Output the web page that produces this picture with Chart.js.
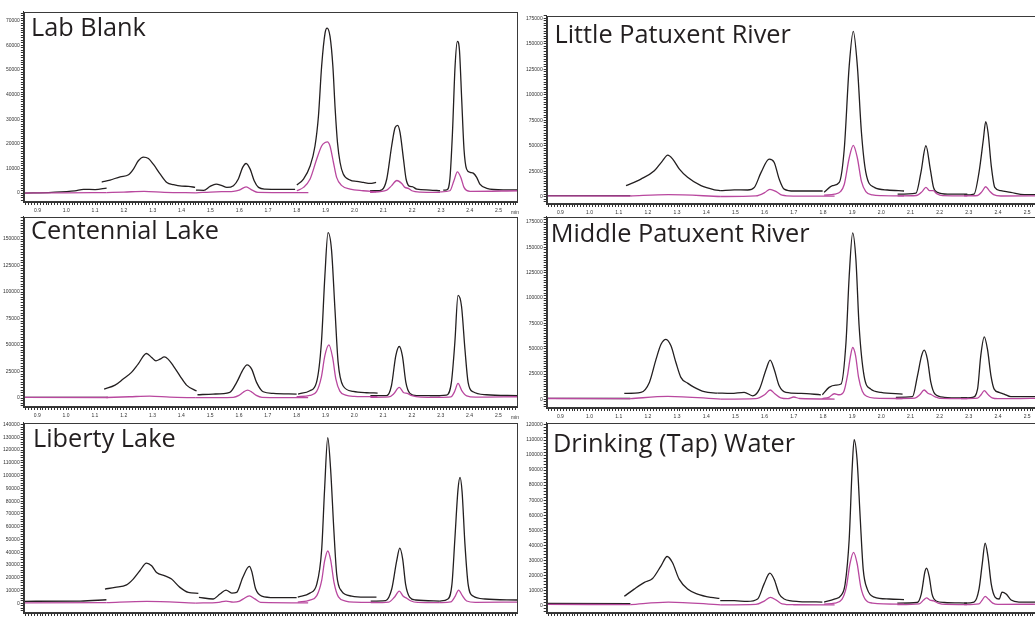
<!DOCTYPE html>
<html lang="en">
<head>
<meta charset="UTF-8" />
<title>Chromatograms</title>
<style>
  html, body { margin: 0; padding: 0; background: #fff; overflow: hidden; }
  body { width: 1035px; height: 619px; position: relative; font-family: "Open Sans", sans-serif; }
  canvas { position: absolute; }
  .title { position: absolute; font-size: 25.3px; line-height: 25.3px; color: #231f20; white-space: nowrap; }
  .unit { position: absolute; font-family: "Liberation Sans", sans-serif; font-size: 5px; line-height: 5px; color: #333; }
</style>
<script src="https://cdn.jsdelivr.net/npm/chart.js"></script>
</head>
<body>
<script>
// retention time axis (min); ticks every 0.01, labelled every 0.1
const xMin = 0.853, xMax = 2.567;
const xMinorPerMin = 100, xMinorPerLabel = 10;

const titles = ['Lab Blank', 'Centennial Lake', 'Liberty Lake',
  'Little Patuxent River', 'Middle Patuxent River', 'Drinking (Tap) Water'];
const yMin = [-3640, -8460, -7570, -7140, -8560, -5100];
const yMax = [73650, 171100, 141500, 177650, 180400, 121550];
const yMajorStep = [10000, 25000, 10000, 25000, 25000, 10000];
const yMinorStep = [1000, 2500, 2000, 2500, 2500, 2000];

// each trace = list of MRM window segments, points are [time, intensity]
const labBlankBlack = [
  [[0.853,0],[0.95,300],[1.03,900],[1.06,1500],[1.10,1400],[1.14,2000]],
  [[1.123,4450],[1.152,5260],[1.187,6600],[1.216,7400],[1.233,9700],[1.25,13100],[1.268,14600],[1.285,14000],[1.302,11700],[1.326,7700],[1.349,4300],[1.372,3400],[1.401,2800],[1.424,2700],[1.447,2300]],
  [[1.45,1200],[1.477,1100],[1.499,2700],[1.52,3600],[1.54,3000],[1.557,2300],[1.58,3000],[1.597,5700],[1.612,10400],[1.624,12000],[1.638,9700],[1.652,5000],[1.667,2300],[1.69,1600],[1.742,1500],[1.794,1500]],
  [[1.80,3240],[1.823,5670],[1.846,11000],[1.863,19100],[1.875,31300],[1.886,51500],[1.898,65000],[1.905,67000],[1.915,63700],[1.925,51500],[1.933,34000],[1.941,20500],[1.95,12400],[1.961,7700],[1.985,5260],[2.008,4700],[2.031,4300],[2.054,3900],[2.075,4300]],
  [[2.054,930],[2.077,930],[2.095,1300],[2.112,5700],[2.129,19100],[2.141,26600],[2.15,27500],[2.158,24600],[2.17,13800],[2.179,5700],[2.19,2800],[2.2,2600],[2.216,1600],[2.262,1200],[2.297,930]],
  [[2.308,1200],[2.32,1300],[2.331,5700],[2.34,24600],[2.349,51500],[2.357,61600],[2.364,58300],[2.372,38000],[2.38,17800],[2.389,9700],[2.401,8400],[2.412,8100],[2.424,6350],[2.435,3600],[2.459,1900],[2.516,1300],[2.567,1300]]
];
const labBlankPink = [
  [[0.853,0],[1.0,100],[1.14,200]],
  [[1.14,200],[1.2,400],[1.27,700],[1.34,300],[1.45,100]],
  [[1.45,100],[1.52,500],[1.58,700],[1.60,1200],[1.624,2500],[1.645,1200],[1.665,300],[1.84,200]],
  [[1.80,930],[1.823,2300],[1.846,5700],[1.869,13800],[1.886,19100],[1.898,20500],[1.906,20800],[1.915,19100],[1.927,12400],[1.938,6350],[1.956,3000],[1.985,1600],[2.03,930],[2.075,500]],
  [[2.054,300],[2.112,1200],[2.129,3000],[2.147,5100],[2.164,3900],[2.175,2300],[2.187,1900],[2.199,930],[2.228,400],[2.297,300]],
  [[2.297,500],[2.331,930],[2.345,5000],[2.357,8600],[2.369,6350],[2.38,2300],[2.401,700],[2.567,930]]
];

const centennialBlack = [
  [[0.853,600],[1.145,600]],
  [[1.132,8460],[1.17,12200],[1.198,17900],[1.227,24200],[1.25,32000],[1.279,42000],[1.297,38300],[1.312,35100],[1.326,36700],[1.341,38800],[1.354,36700],[1.372,30400],[1.395,21000],[1.418,12200],[1.453,6600]],
  [[1.456,3100],[1.51,3760],[1.568,5400],[1.592,14800],[1.615,27300],[1.628,31300],[1.644,27300],[1.661,14800],[1.684,5900],[1.719,4400],[1.80,3760]],
  [[1.805,3760],[1.846,6900],[1.869,14800],[1.886,52400],[1.898,115000],[1.909,156000],[1.921,140000],[1.933,83700],[1.944,33600],[1.961,11600],[1.996,6300],[2.043,5000],[2.081,4700]],
  [[2.056,2200],[2.112,2200],[2.129,11600],[2.144,39800],[2.156,48600],[2.167,39800],[2.179,14800],[2.193,4400],[2.216,2200],[2.297,2200]],
  [[2.262,2200],[2.32,2800],[2.337,14800],[2.349,52400],[2.36,96800],[2.372,86800],[2.384,46000],[2.395,14800],[2.412,5900],[2.459,3100],[2.567,2200]]
];
const centennialPink = [
  [[0.853,600],[1.145,500]],
  [[1.14,500],[1.22,1200],[1.29,1800],[1.36,800],[1.45,300]],
  [[1.45,300],[1.58,700],[1.60,2500],[1.615,5500],[1.63,7500],[1.645,5500],[1.66,2500],[1.68,700],[1.84,300]],
  [[1.80,1200],[1.846,2500],[1.869,6000],[1.886,20000],[1.898,40000],[1.912,50100],[1.925,38000],[1.936,18000],[1.95,6500],[1.97,2800],[2.0,1600],[2.08,1200]],
  [[2.056,700],[2.12,1000],[2.137,4000],[2.156,10000],[2.172,5000],[2.184,4400],[2.2,2200],[2.23,800],[2.3,600]],
  [[2.29,600],[2.335,1000],[2.348,6000],[2.36,13800],[2.373,7000],[2.39,2000],[2.42,800],[2.567,1200]]
];

const libertyBlack = [
  [[0.853,1600],[1.05,1800],[1.14,2800]],
  [[1.135,11200],[1.17,12500],[1.21,14500],[1.233,19000],[1.256,25500],[1.279,31500],[1.297,29400],[1.314,24200],[1.343,21500],[1.366,19000],[1.395,12500],[1.424,8600],[1.459,7800]],
  [[1.461,4700],[1.51,3400],[1.534,7300],[1.555,10400],[1.575,8000],[1.592,8600],[1.613,20300],[1.636,28900],[1.644,25200],[1.658,11200],[1.679,5700],[1.724,4500],[1.80,4500]],
  [[1.804,4900],[1.846,8000],[1.87,15100],[1.887,42400],[1.897,89200],[1.908,129800],[1.918,104800],[1.929,58000],[1.939,22900],[1.956,9600],[1.991,5700],[2.036,4900],[2.077,4900]],
  [[2.057,1800],[2.109,2200],[2.13,11200],[2.147,33000],[2.158,43200],[2.168,34600],[2.178,15100],[2.192,4900],[2.213,2600],[2.297,1800]],
  [[2.297,1800],[2.325,3400],[2.339,15100],[2.349,50200],[2.36,89200],[2.367,98600],[2.374,87600],[2.384,46400],[2.395,15100],[2.412,5700],[2.454,3400],[2.567,2600]]
];
const libertyPink = [
  [[0.853,400],[1.14,600]],
  [[1.14,600],[1.28,1500],[1.45,200]],
  [[1.45,200],[1.53,800],[1.555,1800],[1.58,1000],[1.60,1500],[1.615,3500],[1.636,5900],[1.655,3500],[1.675,800],[1.84,400]],
  [[1.804,1000],[1.846,2500],[1.87,6000],[1.887,18000],[1.897,33000],[1.908,41000],[1.918,34000],[1.93,16000],[1.945,5000],[1.97,1800],[2.0,1000],[2.077,800]],
  [[2.057,500],[2.12,1000],[2.14,5000],[2.156,9600],[2.17,5500],[2.182,4000],[2.195,2000],[2.22,700],[2.297,500]],
  [[2.297,500],[2.335,1200],[2.35,5500],[2.362,10400],[2.375,6000],[2.39,1800],[2.42,700],[2.567,1000]]
];

const littlePatuxentBlack = [
  [[0.853,1000],[1.14,1000]],
  [[1.125,10800],[1.176,17300],[1.222,25400],[1.25,35200],[1.268,40800],[1.285,36900],[1.308,27100],[1.336,19000],[1.382,10800],[1.428,6800],[1.45,5900]],
  [[1.45,5900],[1.496,6800],[1.542,6600],[1.565,9200],[1.588,23900],[1.616,36900],[1.633,33600],[1.65,17300],[1.667,7500],[1.702,5600],[1.799,5600]],
  [[1.804,4300],[1.833,10800],[1.856,14100],[1.873,46600],[1.89,128100],[1.904,162300],[1.918,128100],[1.932,63000],[1.947,23900],[1.976,9200],[2.021,6600],[2.078,5600]],
  [[2.056,2600],[2.119,3600],[2.136,23900],[2.153,50000],[2.168,27100],[2.179,9200],[2.193,4300],[2.227,2600],[2.295,2600]],
  [[2.284,1700],[2.318,2600],[2.335,23900],[2.35,56400],[2.358,73700],[2.366,63000],[2.377,30300],[2.389,9200],[2.41,5900],[2.444,4300],[2.49,2000],[2.567,2000]]
];
const littlePatuxentPink = [
  [[0.853,800],[1.14,700]],
  [[1.14,700],[1.27,2000],[1.45,200]],
  [[1.45,200],[1.57,800],[1.60,4000],[1.618,7300],[1.64,5000],[1.66,1500],[1.70,600],[1.84,500]],
  [[1.804,1500],[1.84,2500],[1.86,5000],[1.873,12000],[1.89,38000],[1.904,50400],[1.918,38000],[1.932,15000],[1.947,5000],[1.97,1800],[2.0,1000],[2.078,800]],
  [[2.056,800],[2.12,1200],[2.14,5000],[2.153,9200],[2.165,6000],[2.178,5900],[2.19,3000],[2.21,1000],[2.295,800]],
  [[2.284,800],[2.33,1200],[2.345,5000],[2.358,9800],[2.37,6000],[2.385,2000],[2.41,700],[2.567,800]]
];

const middlePatuxentBlack = [
  [[0.853,1000],[1.14,800]],
  [[1.119,5900],[1.176,6900],[1.205,16700],[1.228,39700],[1.245,54400],[1.262,59300],[1.279,52800],[1.296,36400],[1.313,21700],[1.336,16000],[1.359,11800],[1.393,7500],[1.439,6200]],
  [[1.439,6200],[1.485,5900],[1.53,6900],[1.559,3500],[1.582,9800],[1.605,29500],[1.619,38700],[1.633,29500],[1.65,13400],[1.673,6900],[1.725,5900],[1.793,4500]],
  [[1.798,4500],[1.821,11800],[1.844,14100],[1.862,15100],[1.879,56100],[1.89,121600],[1.902,164400],[1.913,138100],[1.924,72400],[1.941,23200],[1.964,10100],[1.999,6900],[2.073,5200]],
  [[2.05,2000],[2.107,2600],[2.124,23200],[2.138,42900],[2.147,48500],[2.158,39700],[2.17,16700],[2.184,5200],[2.216,2000],[2.295,1300]],
  [[2.273,1300],[2.313,2000],[2.33,10100],[2.341,42900],[2.353,61600],[2.364,49500],[2.376,23200],[2.387,10100],[2.404,6900],[2.421,5200],[2.444,2600],[2.567,2600]]
];
const middlePatuxentPink = [
  [[0.853,800],[1.14,600]],
  [[1.14,600],[1.268,3000],[1.45,200]],
  [[1.45,200],[1.57,700],[1.60,4500],[1.619,9200],[1.635,5500],[1.655,1500],[1.68,700],[1.70,2300],[1.72,800],[1.84,300]],
  [[1.798,800],[1.82,2000],[1.839,5500],[1.856,4500],[1.872,8000],[1.885,25000],[1.894,42000],[1.902,51200],[1.912,43000],[1.922,22000],[1.935,8000],[1.95,3000],[1.98,1200],[2.073,800]],
  [[2.05,800],[2.115,1200],[2.132,4500],[2.147,9200],[2.16,6000],[2.172,4500],[2.185,2500],[2.2,1000],[2.295,700]],
  [[2.273,700],[2.33,1200],[2.342,4500],[2.353,8500],[2.365,5000],[2.38,1500],[2.40,700],[2.567,1200]]
];

const drinkingBlack = [
  [[0.853,1300],[1.14,1200]],
  [[1.119,6000],[1.153,10800],[1.188,15300],[1.216,17900],[1.245,26300],[1.266,32500],[1.284,28500],[1.307,17400],[1.336,10800],[1.37,7500],[1.416,5300],[1.445,4600]],
  [[1.448,3100],[1.496,3100],[1.541,2600],[1.576,4200],[1.598,14100],[1.618,21400],[1.633,17200],[1.65,7500],[1.667,4200],[1.718,2500],[1.798,2200]],
  [[1.804,2200],[1.839,4200],[1.863,6800],[1.876,14100],[1.89,44000],[1.9,90400],[1.907,110300],[1.917,97000],[1.928,57300],[1.938,24100],[1.952,10800],[1.976,5500],[2.027,4200],[2.078,3800]],
  [[2.055,1500],[2.123,1900],[2.137,7500],[2.15,22700],[2.155,24700],[2.164,19400],[2.174,7500],[2.188,2900],[2.216,1900],[2.294,1500]],
  [[2.284,1500],[2.318,2200],[2.335,10800],[2.346,27400],[2.356,41300],[2.366,32000],[2.377,14100],[2.39,5500],[2.404,4200],[2.414,8800],[2.428,7500],[2.445,3500],[2.472,2200],[2.567,2200]]
];
const drinkingPink = [
  [[0.853,600],[1.14,500]],
  [[1.14,500],[1.27,2200],[1.45,300]],
  [[1.45,300],[1.57,600],[1.60,3000],[1.62,5300],[1.64,3500],[1.66,1000],[1.70,400],[1.84,300]],
  [[1.804,800],[1.84,1500],[1.865,4000],[1.88,12000],[1.893,28000],[1.905,35300],[1.917,28000],[1.93,12000],[1.945,4000],[1.97,1500],[2.078,800]],
  [[2.055,500],[2.13,1000],[2.145,3500],[2.155,5000],[2.167,3500],[2.18,3000],[2.195,1500],[2.22,600],[2.294,500]],
  [[2.284,500],[2.335,1000],[2.346,3500],[2.356,6000],[2.368,4000],[2.382,1500],[2.40,600],[2.567,800]]
];

const blackTraces = [labBlankBlack, centennialBlack, libertyBlack, littlePatuxentBlack, middlePatuxentBlack, drinkingBlack];
const pinkTraces = [labBlankPink, centennialPink, libertyPink, littlePatuxentPink, middlePatuxentPink, drinkingPink];

// where each plot box sits on the page
const panels = [
  { x: 24,  y: 12,  w: 494, h: 191, tx: 31,    ty: 13.5,  unit: true },
  { x: 24,  y: 217, w: 494, h: 191, tx: 31,    ty: 216.5, unit: true },
  { x: 24,  y: 423, w: 494, h: 191, tx: 33,    ty: 425.2, unit: true },
  { x: 547, y: 16,  w: 500, h: 189, tx: 554.5, ty: 20.8,  unit: false },
  { x: 547, y: 217, w: 500, h: 192, tx: 550.7, ty: 219.8, unit: false },
  { x: 547, y: 423, w: 500, h: 191, tx: 553,   ty: 430.2, unit: false }
];
const xAxisH = 16;

const framePlugin = {
  id: 'frame',
  afterDraw(chart) {
    const { ctx, chartArea: a } = chart;
    ctx.save();
    ctx.strokeStyle = '#3a3a3a';
    ctx.lineWidth = 1;
    ctx.strokeRect(Math.round(a.left) + 0.5, Math.round(a.top) + 0.5, Math.round(a.width) - 1, Math.round(a.height) - 1);
    ctx.restore();
  }
};

function segmentSets(segs, color) {
  return segs.map(seg => ({
    data: seg.map(([x, y]) => ({ x, y })),
    borderColor: color,
    borderWidth: 1.3,
    pointRadius: 0,
    fill: false,
    cubicInterpolationMode: 'monotone'
  }));
}

// fixed tick lists (Chart.js respaces ticks when min/max are not whole steps)
function xTicks() {
  const ticks = [];
  for (let k = Math.ceil(xMin * xMinorPerMin); k <= Math.floor(xMax * xMinorPerMin); k++) ticks.push({ value: k / xMinorPerMin });
  return ticks;
}
function yTicks(i) {
  const ticks = [];
  for (let k = Math.ceil(yMin[i] / yMinorStep[i]); k * yMinorStep[i] <= yMax[i]; k++) ticks.push({ value: k * yMinorStep[i] });
  return ticks;
}

const tickFont = { family: '"Liberation Sans", sans-serif', size: 5 };

panels.forEach((p, i) => {
  const canvas = document.createElement('canvas');
  canvas.width = 600;
  canvas.height = p.h + 40;
  document.body.appendChild(canvas);

  const t = document.createElement('div');
  t.className = 'title';
  t.textContent = titles[i];
  t.style.left = p.tx + 'px';
  t.style.top = p.ty + 'px';
  document.body.appendChild(t);

  if (p.unit) {
    const u = document.createElement('div');
    u.className = 'unit';
    u.textContent = 'min';
    u.style.left = '511px';
    u.style.top = (p.y + p.h + 7) + 'px';
    document.body.appendChild(u);
  }

  const chart = new Chart(canvas, {
    type: 'line',
    data: {
      datasets: [...segmentSets(pinkTraces[i], '#b9489f'), ...segmentSets(blackTraces[i], '#231f20')]
    },
    options: {
      responsive: false,
      animation: false,
      events: [],
      layout: { padding: { top: 0, right: 0, left: 0, bottom: 0 } },
      plugins: { legend: { display: false }, tooltip: { enabled: false } },
      scales: {
        x: {
          type: 'linear',
          min: xMin,
          max: xMax,
          grid: { drawOnChartArea: false, drawTicks: true, tickLength: 3, color: '#333' },
          border: { display: true, color: '#333', width: 1 },
          afterBuildTicks: s => { s.ticks = xTicks(); },
          ticks: {
            autoSkip: false,
            maxRotation: 0,
            minRotation: 0,
            padding: 3,
            color: '#333',
            font: tickFont,
            callback: v => (Math.round(v * xMinorPerMin) % xMinorPerLabel === 0 ? v.toFixed(1) : '')
          },
          afterFit: s => { s.height = xAxisH; s.paddingLeft = 0; s.paddingRight = 0; }
        },
        y: {
          min: yMin[i],
          max: yMax[i],
          grid: { drawOnChartArea: false, drawTicks: true, tickLength: 3, color: '#333' },
          border: { display: true, color: '#333', width: 1 },
          afterBuildTicks: s => { s.ticks = yTicks(i); },
          ticks: {
            autoSkip: false,
            padding: 1,
            color: '#333',
            font: tickFont,
            callback: v => (v % yMajorStep[i] === 0 ? String(v) : '')
          },
          afterFit: s => { s.paddingTop = 0; s.paddingBottom = 0; }
        }
      }
    },
    plugins: [framePlugin]
  });

  // trim the padding so the plot box gets the wanted size, then place the canvas
  const a = chart.chartArea;
  chart.options.layout.padding.right = Math.max(0, (a.right - a.left) - p.w);
  chart.options.layout.padding.bottom = Math.max(0, (a.bottom - a.top) - p.h);
  chart.update();
  const b = chart.chartArea;
  canvas.style.left = (p.x - b.left) + 'px';
  canvas.style.top = (p.y - b.top) + 'px';
});
</script>
</body>
</html>
